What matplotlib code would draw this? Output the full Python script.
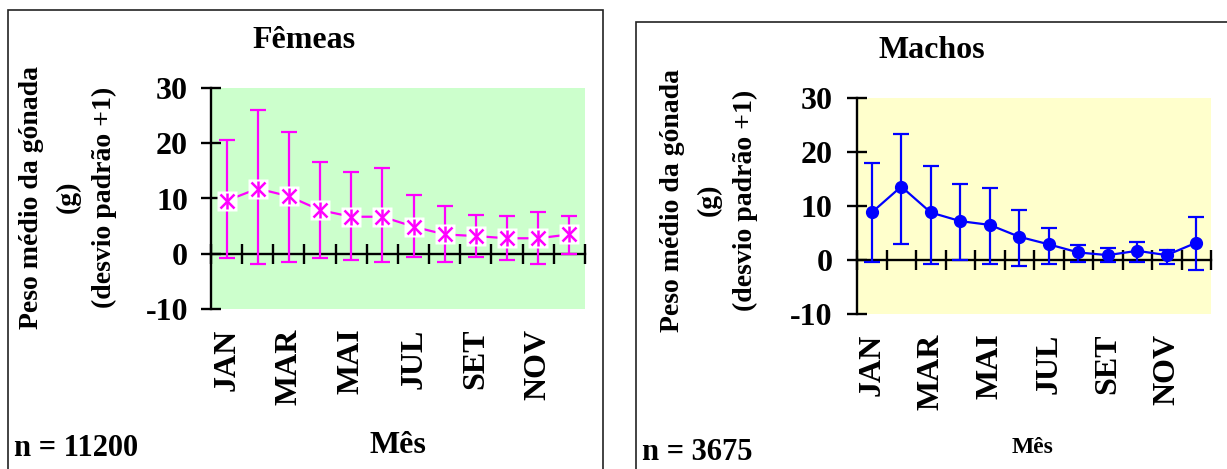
import numpy as np
import matplotlib
matplotlib.use("Agg")
import matplotlib.pyplot as plt
from matplotlib.patches import Rectangle

plt.rcParams['font.family'] = ['Liberation Serif', 'DejaVu Serif']
plt.rcParams['font.weight'] = 'bold'

meses = ['JAN', 'FEV', 'MAR', 'ABR', 'MAI', 'JUN', 'JUL', 'AGO', 'SET', 'OUT', 'NOV', 'DEZ']
y_ticks = [-10, 0, 10, 20, 30]

# Femeas: media, limite superior e inferior da barra de erro
fem_media = [9.6, 11.8, 10.4, 7.9, 6.7, 6.7, 4.9, 3.5, 3.2, 2.8, 2.8, 3.5]
fem_sup = [20.6, 26.0, 22.0, 16.6, 14.8, 15.5, 10.7, 8.6, 7.1, 6.8, 7.5, 6.8]
fem_inf = [-0.8, -1.8, -1.5, -0.8, -1.2, -1.5, -0.5, -1.5, -0.5, -1.2, -1.8, 0.0]

# Machos
mac_media = [8.8, 13.6, 8.8, 7.2, 6.5, 4.3, 2.9, 1.4, 0.9, 1.7, 0.9, 3.2]
mac_sup = [17.9, 23.4, 17.4, 14.1, 13.4, 9.3, 6.0, 2.7, 2.3, 3.4, 1.9, 7.9]
mac_inf = [-0.4, 3.0, -0.7, 0.0, -0.7, -1.1, -0.7, -0.4, -0.4, -0.4, -0.7, -1.8]

W, H = 1227, 469
fig = plt.figure(figsize=(W / 100, H / 100), dpi=100)


def fx(px):
    return px / W


def fy(py):
    return 1 - py / H


def painel(box, bg, pad_y, pad_x):
    x0, y0, x1, y1 = box
    ax = fig.add_axes([fx(x0), fy(y1), fx(x1 - x0), fy(y0) - fy(y1)])
    ax.set_facecolor(bg)
    ax.set_xlim(-0.5, 11.5)
    ax.set_ylim(-10, 30)
    for s in ['top', 'right', 'bottom']:
        ax.spines[s].set_visible(False)
    ax.spines['left'].set_linewidth(1.7)
    ax.set_yticks(y_ticks)
    ax.set_yticklabels([str(v) for v in y_ticks])
    ax.tick_params(axis='y', direction='inout', length=15, width=1.7,
                   labelsize=23, pad=pad_y)
    ax.set_xticks(np.arange(0, 12, 2))
    ax.set_xticklabels(meses[::2], rotation=90)
    ax.tick_params(axis='x', length=0, labelsize=23, pad=pad_x)
    # eixo do zero com marcas entre os meses
    sec = ax.secondary_xaxis(0.25)
    sec.spines['bottom'].set_linewidth(1.7)
    sec.set_xticks(np.arange(-0.5, 12, 1))
    sec.tick_params(direction='inout', length=15, width=1.7, labelbottom=False)
    return ax


x = np.arange(12)

# --- Femeas ---
ax1 = painel((211, 88, 585, 309), '#CCFFCC', 9, 14)
m = np.array(fem_media)
err = [m - np.array(fem_inf), np.array(fem_sup) - m]
ax1.errorbar(x, m, yerr=err, fmt='none', ecolor='#FF00FF', elinewidth=1.6,
             capsize=5.5, capthick=1.6, zorder=3)
ax1.plot(x, m, color='#FF00FF', lw=1.6, zorder=4)
ax1.plot(x, m, ls='none', marker='s', ms=14, mfc='white', mec='none', zorder=5)
ax1.plot(x, m, ls='none', marker='x', ms=9.5, mew=1.8, color='#FF00FF', zorder=6)
ax1.plot(x, m, ls='none', marker='|', ms=11, mew=1.8, color='#FF00FF', zorder=6)

# --- Machos ---
ax2 = painel((857, 98, 1211, 314), '#FFFFCC', 10, 14)
m = np.array(mac_media)
err = [m - np.array(mac_inf), np.array(mac_sup) - m]
ax2.errorbar(x, m, yerr=err, fmt='none', ecolor='#0000FF', elinewidth=1.6,
             capsize=5.5, capthick=1.6, zorder=3)
ax2.plot(x, m, color='#0000FF', lw=1.6, marker='o', ms=8.5, zorder=5)

# molduras
fig.patches.append(Rectangle((fx(8), -0.1), fx(603 - 8), fy(10) + 0.1,
                             transform=fig.transFigure, fill=False,
                             ec='#222222', lw=1.2, clip_on=False))
fig.patches.append(Rectangle((fx(636), -0.1), 0.5, fy(22) + 0.1,
                             transform=fig.transFigure, fill=False,
                             ec='#222222', lw=1.2, clip_on=False))

# textos
fig.text(fx(304), fy(40), 'Fêmeas', ha='center', va='center', fontsize=23)
fig.text(fx(932), fy(50), 'Machos', ha='center', va='center', fontsize=23)

ylab = 'Peso médio da gónada\n(g)\n(desvio padrão +1)'
fig.text(fx(68), fy(197), ylab, rotation=90, ha='center', va='center',
         multialignment='center', fontsize=20, linespacing=1.6)
fig.text(fx(709), fy(200), ylab, rotation=90, ha='center', va='center',
         multialignment='center', fontsize=20, linespacing=1.6)

fig.text(fx(14), fy(456), 'n = 11200', ha='left', va='baseline', fontsize=22)
fig.text(fx(642), fy(460), 'n = 3675', ha='left', va='baseline', fontsize=22)
fig.text(fx(398), fy(453), 'Mês', ha='center', va='baseline', fontsize=23)
fig.text(fx(1033), fy(453), 'Mês', ha='center', va='baseline', fontsize=17)

fig.savefig('out.png', dpi=100)
